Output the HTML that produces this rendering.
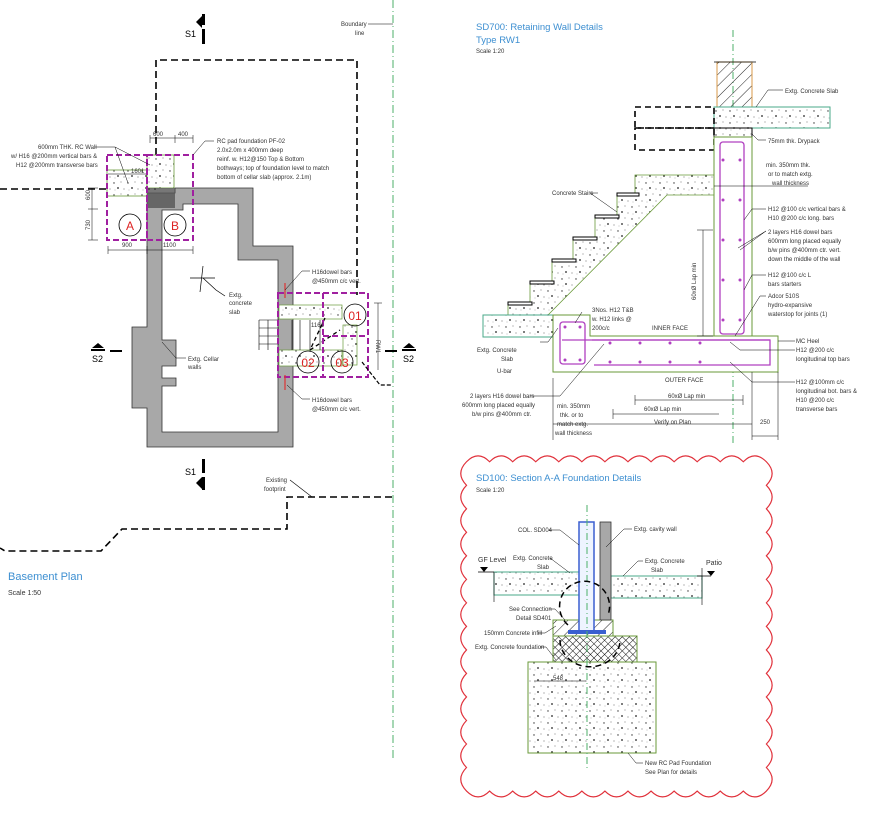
<!DOCTYPE html>
<html><head><meta charset="utf-8"><style>
html,body{margin:0;padding:0;background:#fff;}
svg{display:block;font-family:"Liberation Sans",sans-serif;}
.t{font-size:6px;fill:#333;}
.tt{font-size:9.5px;fill:#3d8fd1;}
</style></head><body>
<svg width="882" height="816" viewBox="0 0 882 816" xmlns="http://www.w3.org/2000/svg">
<defs>
<pattern id="conc" width="14" height="12" patternUnits="userSpaceOnUse">
<rect width="14" height="12" fill="#fff"/>
<circle cx="2" cy="3" r="0.7" fill="#333"/><circle cx="9" cy="2" r="0.5" fill="#555"/>
<circle cx="6" cy="8" r="0.9" fill="#222"/><circle cx="12" cy="9" r="0.5" fill="#444"/>
<circle cx="3" cy="10" r="0.4" fill="#666"/>
</pattern>
<pattern id="hatch" width="8" height="8" patternUnits="userSpaceOnUse" patternTransform="rotate(45)">
<line x1="0" y1="0" x2="0" y2="8" stroke="#222" stroke-width="1"/>
</pattern>
<pattern id="xh" width="5" height="5" patternUnits="userSpaceOnUse" patternTransform="rotate(45)">
<rect width="5" height="5" fill="#fff"/>
<line x1="0" y1="0" x2="0" y2="5" stroke="#111" stroke-width="1"/><line x1="0" y1="0" x2="5" y2="0" stroke="#111" stroke-width="1"/>
</pattern>
</defs>
<rect width="882" height="816" fill="#fff"/>

<!-- ===== BASEMENT PLAN ===== -->
<line x1="393" y1="0" x2="393" y2="760" stroke="#4caf6a" stroke-width="1" stroke-dasharray="8,3,1,3"/>
<text class="t" x="341" y="26">Boundary</text><text class="t" x="355" y="35">line</text>
<line x1="368" y1="24" x2="393" y2="24" stroke="#000" stroke-width="0.6"/>
<path d="M156,188 V60 H357 V295" fill="none" stroke="#000" stroke-width="1.6" stroke-dasharray="7,4"/>
<path d="M0,189 H156" fill="none" stroke="#000" stroke-width="1.6" stroke-dasharray="7,4"/>
<path d="M392,497 H287 V529 H122 L101,551 H5 L0,548" fill="none" stroke="#000" stroke-width="1.6" stroke-dasharray="7,4"/>
<text class="t" x="266" y="482">Existing</text><text class="t" x="264" y="491">footprint</text>
<line x1="290" y1="480" x2="312" y2="497" stroke="#000" stroke-width="0.6"/>

<!-- building walls -->
<path fill-rule="evenodd" fill="#a8a8a8" stroke="#333" stroke-width="0.8"
d="M147,193 H175 V188 H253 V246 H293 V447 H147 V408 H132 V327 H147 Z
M162,210 V340 H176 V366 H162 V378 H176 V386 H162 V432 H278 V260 H238 V204 H183 V210 Z"/>

<!-- A/B zone -->
<rect x="107" y="170" width="40" height="26" fill="url(#conc)" stroke="#6a9a3a" stroke-width="0.8"/>
<rect x="147" y="155" width="27" height="33" fill="url(#conc)" stroke="#6a9a3a" stroke-width="0.8"/>
<rect x="147" y="188" width="28" height="20" fill="#555" opacity="0.8"/>
<rect x="107" y="155" width="40" height="85" fill="none" stroke="#a020a0" stroke-width="2" stroke-dasharray="6,3"/>
<rect x="147" y="155" width="46" height="85" fill="none" stroke="#a020a0" stroke-width="2" stroke-dasharray="6,3"/>
<circle cx="130" cy="225" r="11" fill="none" stroke="#000" stroke-width="0.8"/>
<text x="130" y="230" font-size="12" fill="#d22" text-anchor="middle">A</text>
<circle cx="175" cy="225" r="11" fill="none" stroke="#000" stroke-width="0.8"/>
<text x="175" y="230" font-size="12" fill="#d22" text-anchor="middle">B</text>
<g stroke="#000" stroke-width="0.5" fill="none">
<path d="M108,250 H193 M108,246 V254 M147,246 V254 M193,246 V254"/>
<path d="M92,188 V240 M88,188 H98 M88,209 H98 M88,240 H98"/>
<path d="M108,174 H146"/>
</g>
<path d="M150,40 H193 M150,37 V45 M175,37 V45 M193,37 V45" stroke="#000" stroke-width="0.5" transform="translate(0,98)"/>
<text class="t" x="153" y="136">600</text><text class="t" x="178" y="136">400</text>
<text class="t" x="131" y="173">1601</text>
<text class="t" x="122" y="247">900</text><text class="t" x="163" y="247">1100</text>
<text class="t" x="90" y="200" transform="rotate(-90 90 200)">600</text>
<text class="t" x="90" y="230" transform="rotate(-90 90 230)">730</text>
<text class="t" x="38" y="149">600mm THK. RC Wall</text>
<text class="t" x="11" y="158">w/ H16 @200mm vertical bars &amp;</text>
<text class="t" x="16" y="167">H12 @200mm transverse bars</text>
<path d="M95,147 H115 L150,165 M115,147 L128,183" stroke="#000" stroke-width="0.5" fill="none"/>
<text class="t" x="217" y="143">RC pad foundation PF-02</text>
<text class="t" x="217" y="152">2.0x2.0m x 400mm deep</text>
<text class="t" x="217" y="161">reinf. w. H12@150 Top &amp; Bottom</text>
<text class="t" x="217" y="170">bothways; top of foundation level to match</text>
<text class="t" x="217" y="179">bottom of cellar slab (approx. 2.1m)</text>
<path d="M214,141 H205 L193,155" stroke="#000" stroke-width="0.5" fill="none"/>

<path d="M190,278 H215 M203,266 L200,292 M203,278 L216,290 L225,296" stroke="#000" stroke-width="0.7" fill="none"/>
<text class="t" x="229" y="297">Extg.</text><text class="t" x="229" y="305">concrete</text><text class="t" x="229" y="314">slab</text>
<text class="t" x="188" y="361">Extg. Cellar</text><text class="t" x="188" y="369">walls</text>
<path d="M162,342 L176,358 H186" stroke="#000" stroke-width="0.5" fill="none"/>

<!-- RW zone -->
<rect x="279" y="305" width="63" height="14" fill="url(#conc)" stroke="#6a9a3a" stroke-width="0.7"/>
<rect x="279" y="350" width="63" height="16" fill="url(#conc)" stroke="#6a9a3a" stroke-width="0.7"/>
<rect x="343" y="325" width="14" height="40" fill="url(#conc)" stroke="#6a9a3a" stroke-width="0.7"/>
<g stroke="#000" stroke-width="0.6" fill="none">
<path d="M259,320 H279 M259,328 H279 M259,336 H279 M259,344 H279 M259,320 V350 M268,320 V350"/>
<path d="M292,320 V350 M300,320 V350 M310,320 V350 M320,320 V350"/>
</g>
<path d="M325,318 L310,350 M310,350 L340,330" stroke="#000" stroke-width="1.3" stroke-dasharray="4,3" fill="none"/>
<rect x="278" y="293" width="90" height="84" fill="none" stroke="#a020a0" stroke-width="2" stroke-dasharray="6,3"/>
<path d="M323,293 V377 M323,336 H368" stroke="#a020a0" stroke-width="2" stroke-dasharray="6,3"/>
<circle cx="355" cy="315" r="11" fill="none" stroke="#000" stroke-width="0.8"/>
<text x="355" y="320" font-size="12" fill="#d22" text-anchor="middle">01</text>
<circle cx="308" cy="362" r="11" fill="none" stroke="#000" stroke-width="0.8"/>
<text x="308" y="367" font-size="12" fill="#d22" text-anchor="middle">02</text>
<circle cx="342" cy="362" r="11" fill="none" stroke="#000" stroke-width="0.8"/>
<text x="342" y="367" font-size="12" fill="#d22" text-anchor="middle">03</text>
<path d="M378,303 V370 M374,303 H382" stroke="#000" stroke-width="0.5"/>
<text class="t" x="376" y="340" transform="rotate(90 376 340)">RW1</text>
<text class="t" x="311" y="327">1161</text>
<path d="M285,283 V298 M285,375 V390" stroke="#d33" stroke-width="1.2"/>
<text class="t" x="312" y="274">H16dowel bars</text><text class="t" x="312" y="283">@450mm c/c vert.</text>
<path d="M310,271 H302 L285,290" stroke="#000" stroke-width="0.5" fill="none"/>
<text class="t" x="312" y="402">H16dowel bars</text><text class="t" x="312" y="411">@450mm c/c vert.</text>
<path d="M310,399 H302 L287,385" stroke="#000" stroke-width="0.5" fill="none"/>
<path d="M362,362 L380,385 H392" stroke="#000" stroke-width="1.2" stroke-dasharray="4,2" fill="none"/>

<g fill="#000">
<rect x="202" y="14" width="3" height="11"/><rect x="202" y="29" width="3" height="15"/><path d="M202,16 L196,22 L202,28 Z"/>
<text x="185" y="37" font-size="9">S1</text>
<rect x="202" y="459" width="3" height="14"/><rect x="202" y="477" width="3" height="13"/><path d="M202,477 L196,483 L202,489 Z"/>
<text x="185" y="475" font-size="9">S1</text>
<path d="M92,348 L98,343 L104,348 Z"/><rect x="91" y="349" width="14" height="2"/><rect x="110" y="350" width="12" height="2"/>
<text x="92" y="362" font-size="9">S2</text>
<path d="M403,348 L409,343 L415,348 Z"/><rect x="402" y="349" width="14" height="2"/><rect x="385" y="350" width="12" height="2"/>
<text x="403" y="362" font-size="9">S2</text>
</g>
<text x="8" y="580" font-size="11" fill="#3d8fd1">Basement Plan</text>
<text class="t" x="8" y="595" style="font-size:7px">Scale 1:50</text>

<!-- ===== SD700 ===== -->
<text class="tt" x="476" y="30">SD700: Retaining Wall Details</text>
<text class="tt" x="476" y="43">Type RW1</text>
<text class="t" x="476" y="53">Scale 1:20</text>
<line x1="733" y1="30" x2="733" y2="445" stroke="#4caf6a" stroke-width="1" stroke-dasharray="7,3,1,3"/>
<rect x="717" y="62" width="35" height="45" fill="url(#hatch)" stroke="#d89a4a" stroke-width="1"/>
<path d="M714,62 H756" stroke="#000" stroke-width="0.8"/>
<rect x="714" y="107" width="116" height="21" fill="url(#conc)" stroke="#4aa88a" stroke-width="1"/>
<rect x="714" y="128" width="38" height="9" fill="url(#conc)" stroke="#000" stroke-width="1"/>
<rect x="635" y="107" width="79" height="21" fill="none" stroke="#000" stroke-width="1.6" stroke-dasharray="6,4"/>
<rect x="635" y="128" width="79" height="22" fill="none" stroke="#000" stroke-width="1.6" stroke-dasharray="6,4"/>
<path fill="url(#conc)" stroke="#6a9a3a" stroke-width="0.8" d="M508,315 V305 H530 V284 H552 V262 H573 V240 H595 V218 H617 V196 H635 V175 H714 V195 H667 L548,315 Z"/>
<g stroke="#000" stroke-width="1" fill="#fff">
<rect x="508" y="302" width="24" height="3"/><rect x="530" y="281" width="24" height="3"/><rect x="552" y="259" width="24" height="3"/>
<rect x="573" y="237" width="24" height="3"/><rect x="595" y="215" width="24" height="3"/><rect x="617" y="193" width="22" height="3"/>
</g>
<rect x="483" y="315" width="70" height="22" fill="url(#conc)" stroke="#4aa88a" stroke-width="1"/>
<rect x="714" y="137" width="38" height="199" fill="#fff" stroke="#6a9a3a" stroke-width="1"/>
<path d="M553,315 H590 V336 H778 V372 H553 Z" fill="#fff" stroke="#6a9a3a" stroke-width="1"/>
<g stroke="#b040c0" stroke-width="1.3" fill="none">
<rect x="720" y="142" width="24" height="192" rx="3"/>
<rect x="560" y="322" width="25" height="42" rx="3"/>
<path d="M592,340 H770 V365 H594"/>
<path d="M562,340 H770"/>
</g>
<g fill="#b040c0">
<circle cx="723" cy="160" r="1.5"/><circle cx="740" cy="160" r="1.5"/><circle cx="723" cy="200" r="1.5"/><circle cx="740" cy="200" r="1.5"/>
<circle cx="723" cy="240" r="1.5"/><circle cx="740" cy="240" r="1.5"/><circle cx="723" cy="280" r="1.5"/><circle cx="740" cy="280" r="1.5"/>
<circle cx="723" cy="320" r="1.5"/><circle cx="740" cy="320" r="1.5"/>
<circle cx="610" cy="343" r="1.5"/><circle cx="640" cy="343" r="1.5"/><circle cx="670" cy="343" r="1.5"/><circle cx="700" cy="343" r="1.5"/>
<circle cx="610" cy="362" r="1.5"/><circle cx="640" cy="362" r="1.5"/><circle cx="670" cy="362" r="1.5"/><circle cx="700" cy="362" r="1.5"/>
<circle cx="565" cy="327" r="1.5"/><circle cx="580" cy="327" r="1.5"/><circle cx="565" cy="360" r="1.5"/><circle cx="580" cy="360" r="1.5"/>
</g>
<g stroke="#000" stroke-width="0.5" fill="none">
<path d="M703,230 V336 M697,230 H713 M697,336 H713"/>
<path d="M635,400 H743 M635,395 V405 M743,395 V405"/>
<path d="M613,414 H719 M613,409 V419"/>
<path d="M553,378 V440 M752,372 V440 M778,372 V440 M553,424 H752 M752,436 H778"/>
</g>
<text class="t" x="696" y="300" transform="rotate(-90 696 300)">60xØ Lap min</text>
<text class="t" x="652" y="330">INNER FACE</text>
<text class="t" x="665" y="382">OUTER FACE</text>
<text class="t" x="668" y="398">60xØ Lap min</text>
<text class="t" x="644" y="411">60xØ Lap min</text>
<text class="t" x="654" y="424">Verify on Plan</text>
<text class="t" x="760" y="424">250</text>
<text class="t" x="785" y="93">Extg. Concrete Slab</text><path d="M783,90 H768 L756,107" stroke="#000" stroke-width="0.5" fill="none"/>
<text class="t" x="768" y="143">75mm thk. Drypack</text><path d="M766,140 H758 L752,134" stroke="#000" stroke-width="0.5" fill="none"/>
<text class="t" x="766" y="167">min. 350mm thk.</text><text class="t" x="768" y="176">or to match extg.</text><text class="t" x="772" y="185">wall thickness</text>
<path d="M714,186 H808" stroke="#000" stroke-width="0.6"/>
<text class="t" x="768" y="211">H12 @100 c/c vertical bars &amp;</text><text class="t" x="768" y="220">H10 @200 c/c long. bars</text>
<text class="t" x="768" y="234">2 layers H16 dowel bars</text><text class="t" x="768" y="243">600mm long placed equally</text>
<text class="t" x="768" y="252">b/w pins @400mm ctr. vert.</text><text class="t" x="768" y="261">down the middle of the wall</text>
<text class="t" x="768" y="277">H12 @100 c/c L</text><text class="t" x="768" y="286">bars starters</text>
<text class="t" x="768" y="298">Adcor 510S</text><text class="t" x="768" y="307">hydro-expansive</text><text class="t" x="768" y="316">waterstop for joints (1)</text>
<text class="t" x="796" y="343">MC Heel</text>
<text class="t" x="796" y="352">H12 @200 c/c</text><text class="t" x="796" y="361">longitudinal top bars</text>
<text class="t" x="796" y="384">H12 @100mm c/c</text><text class="t" x="796" y="393">longitudinal bot. bars &amp;</text>
<text class="t" x="796" y="402">H10 @200 c/c</text><text class="t" x="796" y="411">transverse bars</text>
<g stroke="#000" stroke-width="0.5" fill="none">
<path d="M766,209 H752 L744,220 M766,231 L738,248 M766,231 L740,250 M766,275 H752 L744,290 M766,296 H760 L735,336 M795,341 H778 M795,350 H740 L730,342 M795,382 H752 L730,362"/>
<path d="M598,193 H590 L617,212"/>
<path d="M582,312 L575,323 M540,342 H548 L558,328"/>
</g>
<text class="t" x="552" y="195">Concrete Stairs</text>
<text class="t" x="592" y="312">3Nos. H12 T&amp;B</text><text class="t" x="592" y="321">w. H12 links @</text><text class="t" x="592" y="330">200c/c</text>
<text class="t" x="477" y="352">Extg. Concrete</text><text class="t" x="501" y="361">Slab</text>
<text class="t" x="497" y="373">U-bar</text>
<text class="t" x="470" y="398">2 layers H16 dowel bars</text><text class="t" x="462" y="407">600mm long placed equally</text><text class="t" x="472" y="416">b/w pins @400mm ctr.</text>
<text class="t" x="557" y="408">min. 350mm</text><text class="t" x="560" y="417">thk. or to</text><text class="t" x="557" y="426">match extg.</text><text class="t" x="555" y="435">wall thickness</text>
<path d="M530,396 H560 L604,344" stroke="#000" stroke-width="0.5" fill="none"/>

<!-- ===== SD100 cloud ===== -->
<path transform="translate(455,450) scale(0.961,0.98) translate(-458,-448)" fill="none" stroke="#e0303a" stroke-width="1.2" d="
M470,460 q12,-12 24,0 q12,-12 24,0 q12,-12 24,0 q12,-12 24,0 q12,-12 24,0 q12,-12 24,0 q12,-12 24,0 q12,-12 24,0 q12,-12 24,0 q12,-12 24,0 q12,-12 24,0 q12,-12 24,0 q12,-12 24,0
q12,12 0,24 q12,12 0,24 q12,12 0,24 q12,12 0,24 q12,12 0,24 q12,12 0,24 q12,12 0,24 q12,12 0,24 q12,12 0,24 q12,12 0,24 q12,12 0,24 q12,12 0,24 q12,12 0,24 q12,12 0,24
q-12,12 -24,0 q-12,12 -24,0 q-12,12 -24,0 q-12,12 -24,0 q-12,12 -24,0 q-12,12 -24,0 q-12,12 -24,0 q-12,12 -24,0 q-12,12 -24,0 q-12,12 -24,0 q-12,12 -24,0 q-12,12 -24,0 q-12,12 -24,0
q-12,-12 0,-24 q-12,-12 0,-24 q-12,-12 0,-24 q-12,-12 0,-24 q-12,-12 0,-24 q-12,-12 0,-24 q-12,-12 0,-24 q-12,-12 0,-24 q-12,-12 0,-24 q-12,-12 0,-24 q-12,-12 0,-24 q-12,-12 0,-24 q-12,-12 0,-24 q-12,-12 0,-24 Z"/>
<text class="tt" x="476" y="481">SD100: Section A-A Foundation Details</text>
<text class="t" x="476" y="492">Scale 1:20</text>
<rect x="528" y="662" width="128" height="91" fill="url(#conc)" stroke="#6a9a3a" stroke-width="1"/>
<rect x="553" y="636" width="84" height="26" fill="url(#xh)" stroke="#6a9a3a" stroke-width="1"/>
<rect x="553" y="620" width="60" height="16" fill="url(#hatch)" stroke="#6a9a3a" stroke-width="1"/>
<rect x="494" y="572" width="85" height="23" fill="url(#conc)" stroke="#4aa88a" stroke-width="1"/>
<rect x="611" y="576" width="91" height="22" fill="url(#conc)" stroke="#4aa88a" stroke-width="1"/>
<rect x="600" y="522" width="11" height="98" fill="#a8a8a8" stroke="#333" stroke-width="0.8"/>
<rect x="579" y="522" width="15" height="110" fill="#eef4ff" stroke="#3a5fd0" stroke-width="1.5"/>
<rect x="568" y="630" width="38" height="4" fill="#3a5fd0"/>
<line x1="587" y1="505" x2="587" y2="770" stroke="#4caf6a" stroke-width="1" stroke-dasharray="7,3,1,3"/>
<path d="M568,625 a25,25 0 1,1 40,-10 M560,640 a28,25 0 0,0 60,0" fill="none" stroke="#000" stroke-width="1.5" stroke-dasharray="6,4"/>
<path d="M534,681 H586" stroke="#000" stroke-width="0.6"/><text class="t" x="553" y="680">548</text>
<path d="M478,572 H494 M711,576 H697" stroke="#000" stroke-width="0.8"/>
<path d="M480,567 l4,5 l4,-5 z M707,571 l4,5 l4,-5 z" fill="#000"/>
<path d="M494,572 V602 M702,568 V605" stroke="#000" stroke-width="0.6"/>
<text class="t" x="478" y="562" style="font-size:7px">GF Level</text>
<text class="t" x="706" y="565" style="font-size:7px">Patio</text>
<text class="t" x="518" y="532">COL. SD004</text><path d="M549,530 H560 L579,545" stroke="#000" stroke-width="0.5" fill="none"/>
<text class="t" x="634" y="531">Extg. cavity wall</text><path d="M632,529 H624 L606,547" stroke="#000" stroke-width="0.5" fill="none"/>
<text class="t" x="513" y="560">Extg. Concrete</text><text class="t" x="537" y="569">Slab</text>
<path d="M550,558 L570,573" stroke="#000" stroke-width="0.5"/>
<text class="t" x="645" y="563">Extg. Concrete</text><text class="t" x="651" y="572">Slab</text>
<path d="M643,561 H638 L623,576" stroke="#000" stroke-width="0.5" fill="none"/>
<text class="t" x="509" y="611">See Connection</text><text class="t" x="516" y="620">Detail SD401</text>
<path d="M549,609 H555 L565,620" stroke="#000" stroke-width="0.5" fill="none"/>
<text class="t" x="484" y="635">150mm Concrete infill</text><path d="M538,633 H545 L556,626" stroke="#000" stroke-width="0.5" fill="none"/>
<text class="t" x="475" y="649">Extg. Concrete foundation</text><path d="M540,647 H546 L556,660" stroke="#000" stroke-width="0.5" fill="none"/>
<text class="t" x="645" y="765">New RC Pad Foundation</text><text class="t" x="645" y="774">See Plan for details</text>
<path d="M643,763 H636 L628,753" stroke="#000" stroke-width="0.5" fill="none"/>
</svg>
</body></html>
